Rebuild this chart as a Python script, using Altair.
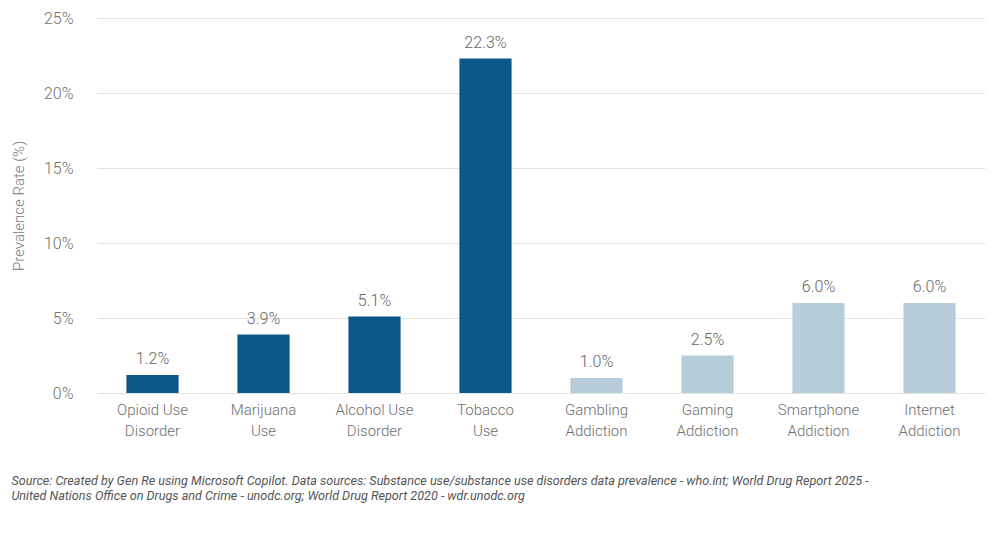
import altair as alt
import pandas as pd

categories = ["Opioid Use|Disorder", "Marijuana|Use", "Alcohol Use|Disorder", "Tobacco|Use",
              "Gambling|Addiction", "Gaming|Addiction", "Smartphone|Addiction", "Internet|Addiction"]
values = [1.2, 3.9, 5.1, 22.3, 1.0, 2.5, 6.0, 6.0]
groups = ["Substance", "Substance", "Substance", "Substance",
          "Behavioral", "Behavioral", "Behavioral", "Behavioral"]
y_ticks = [0, 5, 10, 15, 20, 25]
source_lines = [
    "Source: Created by Gen Re using Microsoft Copilot. Data sources: Substance use/substance use disorders data prevalence - who.int; World Drug Report 2025 -",
    "United Nations Office on Drugs and Crime - unodc.org; World Drug Report 2020 - wdr.unodc.org",
]

df = pd.DataFrame({"cat": categories, "val": values, "grp": groups})
df["lab"] = df["val"].map(lambda v: f"{v:.1f}%")

FONT = "Roboto"

base = alt.Chart(df).encode(
    x=alt.X("cat:N", sort=categories,
            scale=alt.Scale(paddingInner=0.53, paddingOuter=0.265),
            axis=alt.Axis(title=None, labelAngle=0, labelExpr="split(datum.label, '|')",
                          labelFontSize=15, labelColor="#6f6f6f", labelFont=FONT,
                          labelFontWeight=300,
                          labelLineHeight=21, labelPadding=9, ticks=False, domain=False)),
    y=alt.Y("val:Q", scale=alt.Scale(domain=[0, 25]),
            axis=alt.Axis(title="Prevalence Rate (%)", values=y_ticks,
                          labelExpr="datum.value + '%'", labelFontSize=16, labelColor="#6f6f6f",
                          labelFont=FONT, labelFontWeight=300, labelPadding=24,
                          titleFont=FONT, titleFontSize=15,
                          titleFontWeight=300, titleColor="#777777", titlePadding=17,
                          ticks=False, domain=False, gridColor="#e3e3e3", gridWidth=1)),
)

bars = base.mark_bar().encode(
    color=alt.Color("grp:N", scale=alt.Scale(domain=["Substance", "Behavioral"],
                                             range=["#0b5788", "#b7cdd9"]), legend=None)
)

texts = base.mark_text(baseline="bottom", dy=-8, fontSize=16, fontWeight=300,
                       color="#666666", font=FONT).encode(
    text="lab:N"
)

chart = (bars + texts).properties(
    width=888, height=375,
    padding={"left": 3, "top": 2, "right": 5, "bottom": 5},
    title=alt.TitleParams(text=source_lines, orient="bottom", anchor="start", frame="bounds",
                          font=FONT, fontSize=12.6, fontStyle="italic", fontWeight="normal",
                          color="#555555", lineHeight=15, offset=37),
).configure_view(stroke=None)

chart.save("out.html", embed_options={"renderer": "svg", "actions": False})
